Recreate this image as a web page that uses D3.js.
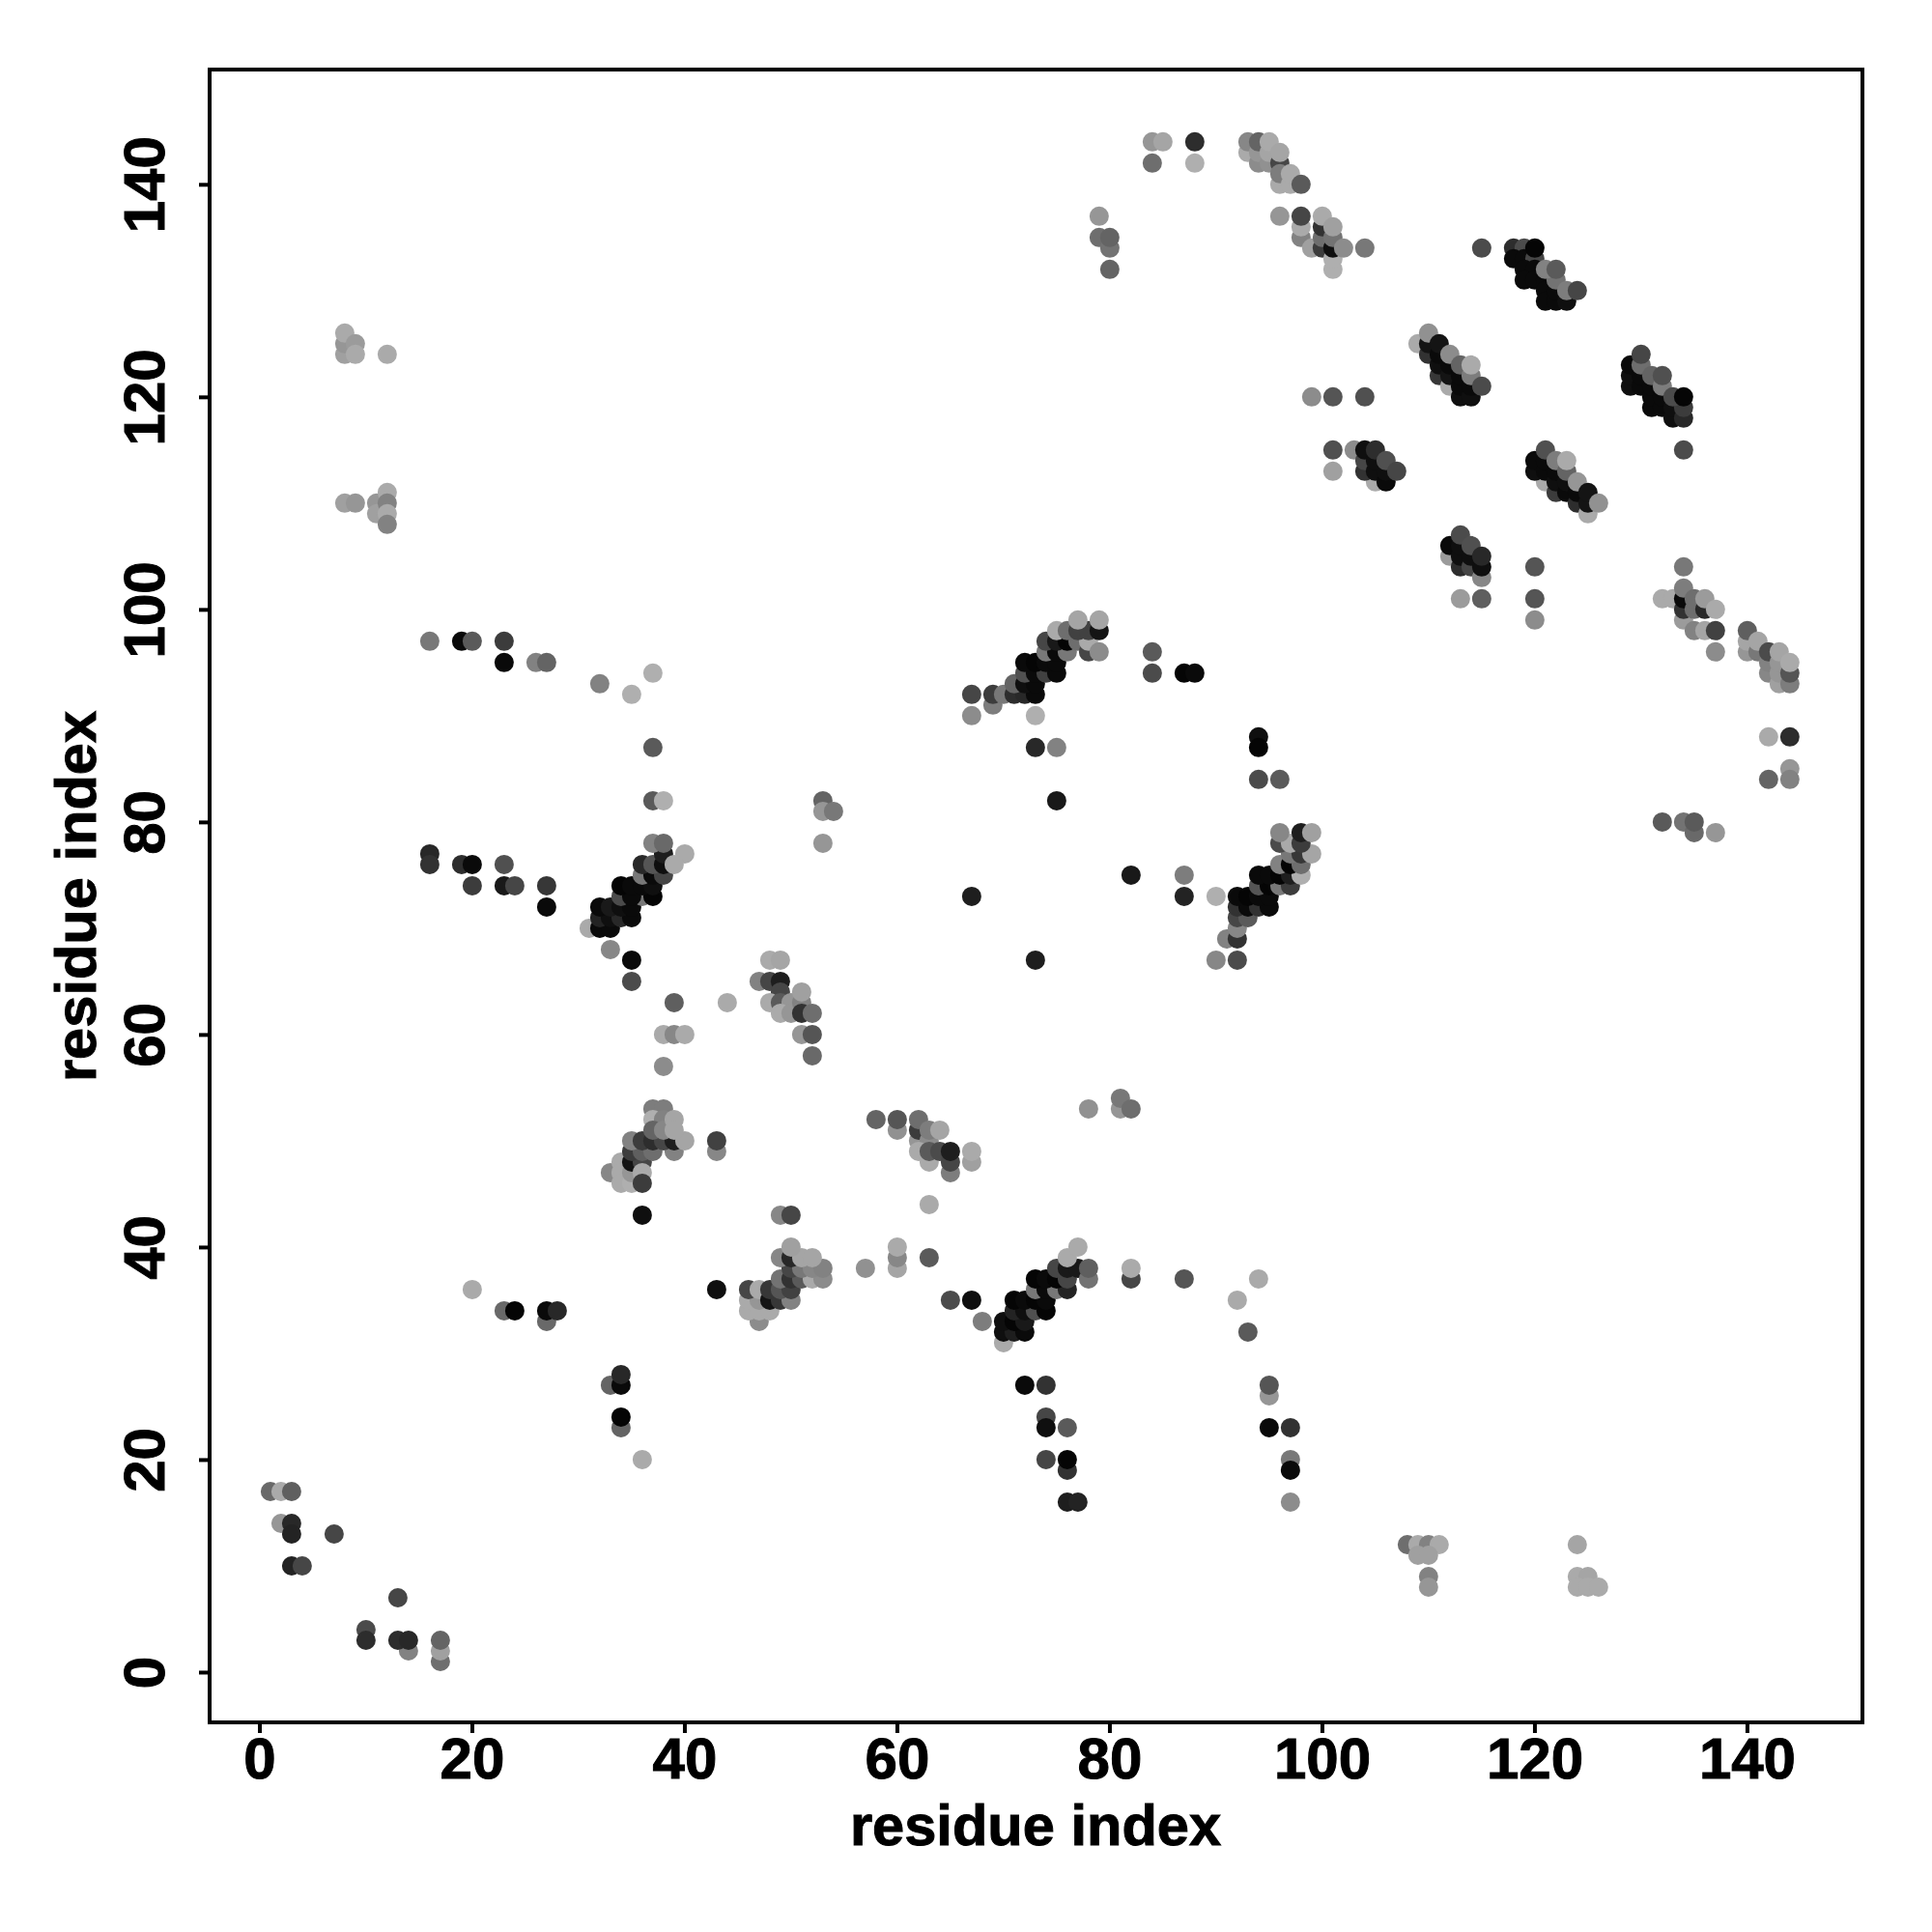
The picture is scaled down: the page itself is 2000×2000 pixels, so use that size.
<!DOCTYPE html>
<html><head><meta charset="utf-8">
<script src="https://cdn.jsdelivr.net/npm/d3@7/dist/d3.min.js"></script>
<style>html,body{margin:0;padding:0;background:#fff}svg{display:block}</style>
</head><body><div id="chart"></div>
<script>
// each entry: residue x, residue y, grey level (0 black .. 255 white)
const contactsEnds = [[1,17,105],[2,17,170],[3,17,95],[2,14,150],[3,14,40],[3,13,35],[3,10,35],[4,10,70],[7,13,70],
[10,4,75],[10,3,45],[13,7,70],[14,2,130],[13,3,45],[14,3,40],[17,1,110],[17,2,160],[17,3,100],
[8,124,160],[8,125,150],[8,126,170],[9,125,155],[9,124,170],[12,124,170],[8,110,160],[9,110,150],[11,110,150],[11,109,160],[12,111,170],[12,110,130],[12,109,170],[12,108,130],
[108,12,110],[109,12,170],[110,12,130],[111,12,170],[109,11,160],[110,11,160],[110,9,130],[110,8,150],
[124,12,165],[124,9,170],[125,9,165],[124,8,170],[125,8,170],[126,8,170]];
const contactsLeft = [[16,97,120],[19,97,10],[20,97,90],[23,97,60],[23,95,10],[26,95,130],[27,95,100],[32,93,130],[35,92,175],[37,94,175],[37,87,90],
[37,82,90],[38,82,175],[53,82,100],[53,81,150],[54,81,120],[53,78,150],
[16,77,40],[16,76,50],[19,76,45],[20,76,10],[20,74,60],[23,76,80],[23,74,25],[24,74,70],[27,74,55],[27,72,10],
[20,36,170],[23,34,105],[24,34,5],[27,33,105],[27,34,10],[28,34,40],
[33,27,100],[34,27,10],[34,28,40],[34,23,100],[34,24,5],[36,20,170],
[33,68,135],[35,67,10],[35,65,75],[39,63,95],[44,63,170],[38,60,170],[39,60,135],[40,60,170],[38,57,140],[43,49,135],[43,50,65],[36,43,15],[43,36,15],[49,43,135],[50,43,70]];
const helixA = [[31,70,170],[32,70,10],[33,70,10],[32,71,35],[33,71,15],[34,71,40],[35,71,10],[32,72,10],[33,72,25],[34,72,15],[35,72,10],
[34,73,75],[36,73,120],[35,73,10],[37,73,5],[34,74,5],[35,74,10],[36,74,10],[37,74,15],[36,75,120],[37,75,10],[38,75,70],
[36,76,40],[37,76,85],[38,76,15],[38,77,30],[37,78,130],[38,78,105],[40,77,170],[39,76,170]];
const sheetA = [[48,67,170],[49,67,165],[47,65,130],[48,65,70],[49,65,30],[49,64,70],[48,63,170],[49,63,90],[50,63,150],[49,62,170],[50,62,150],[51,63,130],[51,64,160],[51,62,50],[52,62,110],[51,60,150],[52,60,85],[52,58,105]];
const clusterB = [[33,47,135],[34,48,170],[34,47,170],[34,46,170],[35,46,175],[35,47,150],[35,48,20],[36,48,70],[36,47,170],[36,46,60],
[35,49,60],[36,49,95],[37,49,110],[39,49,130],[35,50,130],[36,50,60],[37,50,45],[38,50,70],[39,50,30],[40,50,165],
[37,53,125],[38,53,125],[37,52,175],[38,52,130],[37,51,100],[38,51,135],[39,52,165],[39,51,165]];
const clusterC = [[47,33,140],[46,34,170],[47,34,170],[48,34,170],[46,35,170],[47,35,150],[46,36,70],[47,36,170],[48,35,20],[49,35,55],[50,35,130],[48,36,55],[49,36,85],[50,36,65],
[49,37,115],[50,37,50],[51,37,90],[52,37,170],[53,37,140],[50,38,70],[51,38,120],[52,38,135],[53,38,130],[49,39,135],[50,39,40],[51,39,165],[52,39,165],[50,40,160],[57,38,145]];
const clusterD = [[58,52,100],[60,51,145],[60,52,85],[62,50,150],[62,51,60],[62,52,110],[63,50,140],[63,51,125],[64,51,165],[62,49,170],[63,48,170],[63,49,90],[64,49,75],[65,47,125],[65,48,70],[65,49,30],[67,48,160],[67,49,170],[63,44,170],
[60,38,165],[60,39,135],[60,40,170],[63,39,90],[65,35,75],[67,35,15],[68,33,125],[78,53,145],[81,53,150],[81,54,120],[82,53,110]];
const helixD = [[70,31,170],[70,32,15],[71,32,30],[72,32,10],[70,33,15],[71,33,5],[72,33,25],[71,34,35],[72,34,15],[73,34,80],[74,34,5],[71,35,5],[72,35,10],[73,35,5],[74,35,10],
[73,36,120],[74,36,10],[75,36,120],[76,36,35],[73,37,5],[74,37,10],[75,37,5],[76,37,70],[75,38,70],[76,38,25],[77,38,25],[78,37,115],[78,38,95],[76,39,170],[77,40,170],[82,37,70],[82,38,170]];
const contactsMid = [[87,37,85],[92,35,170],[94,37,170],[93,32,90],[95,26,150],[95,27,85],[95,23,10],[97,23,50],[97,20,120],[97,19,10],[97,16,140],
[72,27,10],[74,27,50],[74,24,70],[74,23,15],[74,20,70],[76,23,90],[76,19,50],[76,20,5],[76,16,30],[77,16,35],
[73,90,175],[73,87,40],[75,87,130],[75,82,25],[82,75,25],[87,75,125],[87,73,35],[67,73,30],[90,73,175],[73,67,30],[90,67,135],[92,67,75],
[94,88,15],[94,87,5],[94,84,75],[96,84,90],[84,96,90],[84,94,75],[87,94,5],[88,94,10]];
const helixE = [[67,90,140],[67,92,70],[69,91,125],[69,92,60],[70,92,120],[71,92,45],[72,92,40],[73,92,10],[71,93,100],[72,93,15],[73,93,10],[72,94,80],[73,94,10],[74,94,65],[75,94,10],
[72,95,10],[73,95,5],[74,95,10],[75,95,10],[74,96,120],[75,96,10],[76,96,120],[74,97,70],[75,97,25],[76,97,5],[77,97,110],[78,96,70],[78,97,170],[79,96,140],
[75,98,170],[76,98,110],[77,98,65],[78,98,65],[79,98,20],[77,99,165],[79,99,165]];
const helixF = [[91,69,130],[92,69,50],[92,70,135],[92,71,70],[93,71,90],[92,72,50],[93,72,10],[94,72,50],[95,72,10],[92,73,10],[93,73,5],[94,73,10],[95,73,10],
[94,74,85],[95,74,5],[96,74,120],[97,74,60],[94,75,10],[95,75,10],[96,75,5],[97,75,30],[98,75,175],[96,76,130],[97,76,5],[98,76,110],
[97,77,120],[98,77,55],[99,77,165],[96,78,75],[97,78,170],[98,78,60],[96,79,135],[98,79,30],[99,79,160]];
const contactsTop = [[79,137,150],[79,135,110],[80,134,115],[80,135,100],[80,132,100],[84,144,150],[85,144,165],[84,142,110],[88,144,45],[88,142,175],
[93,143,170],[93,144,135],[94,142,140],[94,143,150],[94,144,100],[95,142,145],[95,143,165],[95,144,170],[96,142,70],[96,143,165],[96,140,170],[96,141,125],[97,140,170],[97,141,170],[98,140,90],
[96,137,150],[98,135,130],[98,136,170],[98,137,70],[99,134,160],[100,134,60],[100,135,110],[100,136,50],[100,137,170],[101,132,175],[101,133,175],[101,134,15],[101,135,115],[101,136,160],[102,134,140],[104,134,120]];
const clusterG = [[115,134,75],[118,134,45],[119,134,75],[118,133,10],[119,133,10],[120,133,70],[120,134,5],[119,132,10],[120,132,10],[119,131,10],[120,131,10],[121,131,10],[121,130,10],[121,129,10],[122,129,10],[122,130,10],[123,129,15],[122,131,115],[121,132,130],[122,132,90],[123,130,125],[124,130,70]];
const clusterH = [[109,125,170],[110,124,50],[110,125,20],[110,126,145],[111,122,55],[111,123,15],[111,124,10],[111,125,20],[112,121,170],[112,122,20],[112,123,10],[113,120,15],[113,121,10],[113,122,10],[114,120,15],[114,121,10],[112,124,140],[113,123,100],[114,122,125],[114,123,170],[115,121,75]];
const clusterI = [[129,121,15],[129,122,15],[129,123,10],[130,121,10],[130,122,10],[130,123,110],[130,124,70],[131,119,10],[131,120,10],[131,121,10],[131,122,100],[132,119,10],[132,120,10],[132,121,125],[132,122,80],[133,118,15],[133,119,15],[134,118,40],[134,119,60],[133,120,75],[134,120,5],[134,115,75]];
const clusterJ = [[99,120,140],[101,120,85],[104,120,80],[101,113,160],[101,115,80],[103,115,140],[105,112,170],[104,113,50],[104,114,70],[104,115,15],[105,113,15],[105,114,15],[105,115,45],[106,112,10],[106,113,15],[106,114,80],[107,113,70]];
const clusterK = [[121,112,170],[120,113,15],[120,114,10],[121,113,10],[121,114,10],[121,115,80],[122,111,60],[122,112,15],[122,113,10],[122,114,125],[123,111,10],[123,112,15],[123,113,100],[123,114,170],[124,110,45],[124,111,10],[124,112,150],[125,109,170],[125,110,20],[125,111,20],[126,110,145]];
const clusterL = [[112,105,155],[112,106,10],[113,104,45],[113,105,15],[113,106,15],[113,107,75],[114,104,70],[114,105,15],[114,106,80],[115,103,135],[115,104,15],[115,105,40],[113,101,155],[115,101,95],[120,104,85],[120,101,85],[120,99,140]];
const clusterM = [[132,101,170],[133,101,170],[134,99,155],[134,100,50],[134,101,10],[134,102,125],[134,104,120],[135,98,130],[135,100,110],[135,101,110],[136,100,40],[136,101,155],[136,98,165],[137,100,170],[137,98,65],[137,96,140]];
const clusterN = [[140,96,150],[140,97,165],[140,98,95],[141,96,120],[141,97,165],[142,94,135],[142,95,130],[142,96,75],[143,93,160],[143,94,150],[143,95,150],[143,96,165],[144,93,125],[144,94,85],[144,95,170],
[142,88,170],[144,88,45],[142,84,100],[144,85,150],[144,84,130],[132,80,90],[134,80,115],[135,79,105],[135,80,90],[137,79,150]];
const contacts = [contactsEnds,contactsLeft,helixA,sheetA,clusterB,clusterC,clusterD,helixD,contactsMid,helixE,helixF,contactsTop,clusterG,clusterH,clusterI,clusterJ,clusterK,clusterL,clusterM,clusterN].flat();
const tickValues = [0,20,40,60,80,100,120,140];
const axisTitle = "residue index";

const box = {l:217,r:1928,t:72,b:1783};
const x = d3.scaleLinear().domain([-4.68,150.87]).range([box.l,box.r]);
const y = d3.scaleLinear().domain([-4.73,150.8]).range([box.b,box.t]);
const font = '"Liberation Sans",Arial,sans-serif';
const svg = d3.select("#chart").append("svg").attr("width",2000).attr("height",2000).style("background","#fff");

svg.append("g").selectAll("circle").data(contacts).join("circle")
  .attr("cx",d=>x(d[0])+0.4).attr("cy",d=>y(d[1])).attr("r",10)
  .attr("fill",d=>`rgb(${d[2]},${d[2]},${d[2]})`);

svg.append("rect").attr("x",box.l).attr("y",box.t).attr("width",box.r-box.l).attr("height",box.b-box.t)
  .attr("fill","none").attr("stroke","#000").attr("stroke-width",4);

const gx = svg.append("g").attr("transform",`translate(0,${box.b})`)
  .call(d3.axisBottom(x).tickValues(tickValues).tickSize(11).tickSizeOuter(0).tickPadding(4).tickFormat(d3.format("d")));
const gy = svg.append("g").attr("transform",`translate(${box.l},0)`)
  .call(d3.axisLeft(y).tickValues(tickValues).tickSize(11).tickSizeOuter(0).tickFormat(d3.format("d")));
[gx,gy].forEach(g=>{
  g.select(".domain").remove();
  g.selectAll(".tick line").attr("stroke-width",4);
  g.selectAll("text").attr("font-family",font).attr("font-weight","bold").attr("font-size",60).attr("fill","#000")
    .attr("stroke","#000").attr("stroke-width",1);
});
gy.selectAll("text").attr("x",null).attr("dy",null).attr("text-anchor","middle")
  .attr("transform","translate(-47,0) rotate(-90)");

svg.append("text").attr("x",1072).attr("y",1910).attr("text-anchor","middle")
  .attr("font-family",font).attr("font-weight","bold").attr("font-size",59.6)
  .attr("stroke","#000").attr("stroke-width",1).text(axisTitle);
svg.append("text").attr("transform","translate(99,928) rotate(-90)").attr("text-anchor","middle")
  .attr("font-family",font).attr("font-weight","bold").attr("font-size",59.6)
  .attr("stroke","#000").attr("stroke-width",1).text(axisTitle);
</script></body></html>
